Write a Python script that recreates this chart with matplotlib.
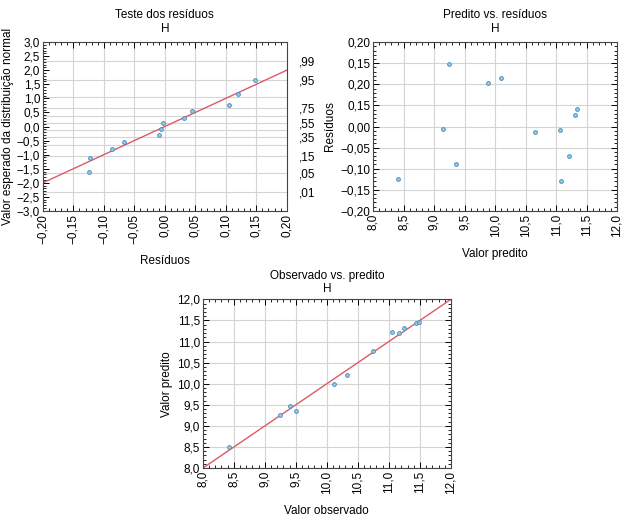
import matplotlib
matplotlib.use("Agg")
import matplotlib.pyplot as plt
from matplotlib.ticker import MultipleLocator, FuncFormatter, FixedLocator
from statistics import NormalDist

plt.rcParams["font.family"] = ["Liberation Sans", "DejaVu Sans"]
plt.rcParams["font.size"] = 8.5

# ── data ─────────────────────────────────────────────────────────────────────
# normal probability plot of residuals
res_x = [0.148, 0.120, 0.106, 0.044, 0.031, -0.003, -0.006, -0.010,
         -0.067, -0.086, -0.122, -0.124]
res_z = [1.64, 1.14, 0.76, 0.56, 0.31, 0.11, -0.09, -0.30,
         -0.55, -0.79, -1.12, -1.60]
ref_line_x = [-0.20, 0.20]
ref_line_z = [-2.0, 2.0]
prob_grid = [0.01, 0.05, 0.15, 0.25, 0.35, 0.45, 0.55, 0.65, 0.75, 0.85, 0.95, 0.99]
prob_labels = [0.01, 0.05, 0.15, 0.35, 0.55, 0.75, 0.95, 0.99]

# predicted vs residuals
pred_x = [9.24, 9.88, 10.10, 9.14, 9.36, 8.41, 10.65, 11.06, 11.21,
          11.08, 11.31, 11.35]
pred_res = [0.147, 0.104, 0.115, -0.006, -0.089, -0.125, -0.014, -0.009,
            -0.070, -0.128, 0.028, 0.041]
# tick labels as printed in the original (including its repeated labels)
pred_ytick_vals = [-0.20, -0.15, -0.10, -0.05, 0.00, 0.05, 0.10, 0.15, 0.20]
pred_ytick_text = ["\u22120,20", "\u22120,15", "\u22120,10", "\u22120,05",
                   "0,00", "0,15", "0,20", "0,15", "0,20"]

# observed vs predicted
obs_x = [8.42, 9.25, 9.41, 9.51, 10.11, 10.32, 10.74, 11.05, 11.17,
         11.25, 11.44, 11.49]
obs_pred = [8.51, 9.25, 9.48, 9.35, 9.99, 10.20, 10.77, 11.23, 11.20,
            11.33, 11.44, 11.46]
diag = [8.0, 12.0]

# ── style ───────────────────────────────────────────────────────────────────
PT_FACE = "#9fcde8"
PT_EDGE = "#4a8fc0"
LINE_C = "#dc5a66"
GRID_C = "#d4d4d4"


def comma_fmt(decimals):
    def f(v, pos):
        s = f"{v:.{decimals}f}"
        if float(s) == 0:
            s = s.lstrip("-")
        return s.replace(".", ",").replace("-", "\u2212")
    return FuncFormatter(f)


def style_axes(ax):
    ax.tick_params(which="both", direction="in", top=True, right=True,
                   labelsize=8.5, pad=2)
    ax.tick_params(which="major", length=4, width=0.7)
    ax.tick_params(which="minor", length=2.5, width=0.6)
    ax.tick_params(axis="x", labelrotation=90)
    for sp in ax.spines.values():
        sp.set_linewidth(0.8)
        sp.set_color("#444444")
    ax.set_axisbelow(True)


def scatter(ax, x, y):
    ax.plot(x, y, "o", ms=2.7, mfc=PT_FACE, mec=PT_EDGE, mew=0.7, zorder=3)


fig = plt.figure(figsize=(6.22, 5.26), dpi=100)

# ── panel 1: normal probability plot ────────────────────────────────────────
ax1 = fig.add_axes([0.069, 0.599, 0.392, 0.321])
nd = NormalDist()
for p in prob_grid:
    ax1.axhline(nd.inv_cdf(p), color=GRID_C, lw=0.8, zorder=0)
for v in [i * 0.05 for i in range(-3, 4)]:
    ax1.axvline(v, color=GRID_C, lw=0.8, zorder=0)
ax1.plot(ref_line_x, ref_line_z, color=LINE_C, lw=1.0, zorder=2)
scatter(ax1, res_x, res_z)
ax1.set_xlim(-0.20, 0.20)
ax1.set_ylim(-3.0, 3.0)
ax1.xaxis.set_major_locator(MultipleLocator(0.05))
ax1.xaxis.set_minor_locator(MultipleLocator(0.01))
ax1.yaxis.set_major_locator(MultipleLocator(0.5))
ax1.yaxis.set_minor_locator(MultipleLocator(0.1))
ax1.xaxis.set_major_formatter(comma_fmt(2))
ax1.yaxis.set_major_formatter(comma_fmt(1))
style_axes(ax1)
ax1.set_title("Teste dos resíduos\nH", fontsize=8.5, pad=7, linespacing=1.3)
ax1.set_xlabel("Resíduos", fontsize=8.5, labelpad=8)
ax1.set_ylabel("Valor esperado da distribuição normal", fontsize=8.5, labelpad=2)

ax1r = ax1.twinx()
ax1r.set_ylim(-3.0, 3.0)
ax1r.yaxis.set_major_locator(FixedLocator([nd.inv_cdf(p) for p in prob_labels]))
ax1r.set_yticklabels(["," + f"{p:.2f}"[2:] for p in prob_labels])
ax1r.tick_params(axis="y", length=0, labelsize=8.5, pad=9)
for sp in ax1r.spines.values():
    sp.set_visible(False)

# ── panel 2: predicted vs residuals ─────────────────────────────────────────
ax2 = fig.add_axes([0.600, 0.599, 0.392, 0.321])
ax2.grid(True, which="major", color=GRID_C, lw=0.8)
scatter(ax2, pred_x, pred_res)
ax2.set_xlim(8.0, 12.0)
ax2.set_ylim(-0.20, 0.20)
ax2.xaxis.set_major_locator(MultipleLocator(0.5))
ax2.xaxis.set_minor_locator(MultipleLocator(0.1))
ax2.yaxis.set_major_locator(FixedLocator(pred_ytick_vals))
ax2.set_yticklabels(pred_ytick_text)
ax2.yaxis.set_minor_locator(MultipleLocator(0.01))
ax2.xaxis.set_major_formatter(comma_fmt(1))
style_axes(ax2)
ax2.set_title("Predito vs. resíduos\nH", fontsize=8.5, pad=7, linespacing=1.3)
ax2.set_xlabel("Valor predito", fontsize=8.5, labelpad=8)
ax2.set_ylabel("Resíduos", fontsize=8.5, labelpad=3)

# ── panel 3: observed vs predicted ──────────────────────────────────────────
ax3 = fig.add_axes([0.326, 0.110, 0.399, 0.321])
ax3.grid(True, which="major", color=GRID_C, lw=0.8)
ax3.plot(diag, diag, color=LINE_C, lw=1.0, zorder=2)
scatter(ax3, obs_x, obs_pred)
ax3.set_xlim(8.0, 12.0)
ax3.set_ylim(8.0, 12.0)
ax3.xaxis.set_major_locator(MultipleLocator(0.5))
ax3.xaxis.set_minor_locator(MultipleLocator(0.1))
ax3.yaxis.set_major_locator(MultipleLocator(0.5))
ax3.yaxis.set_minor_locator(MultipleLocator(0.1))
ax3.xaxis.set_major_formatter(comma_fmt(1))
ax3.yaxis.set_major_formatter(comma_fmt(1))
style_axes(ax3)
ax3.set_title("Observado vs. predito\nH", fontsize=8.5, pad=5, linespacing=1.2)
ax3.set_xlabel("Valor observado", fontsize=8.5, labelpad=8)
ax3.set_ylabel("Valor predito", fontsize=8.5, labelpad=3)

fig.savefig("out.png", dpi=100, facecolor="white")
